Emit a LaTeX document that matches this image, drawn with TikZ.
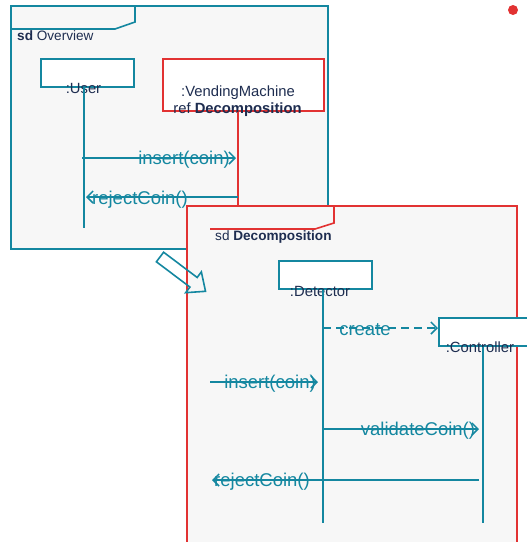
\documentclass[tikz,border=0pt]{standalone}
\usepackage{fontspec}
\setmainfont{Liberation Sans}
\usepackage{xcolor}
\definecolor{umlteal}{RGB}{20, 135, 160}
\definecolor{umlred}{RGB}{226,  50,  50}
\definecolor{paper}{RGB}{247, 247, 247}
\definecolor{ink}{RGB}{ 30,  45,  80}
\usepackage{tikz}
\usetikzlibrary{arrows.meta, positioning}

\begin{document}
\begin{tikzpicture}[x=1pt, y=-1pt,
    lifebox/.style={draw=umlteal, fill=white, line width=1.6pt, inner sep=0pt, anchor=north west},
    lifeline/.style={draw=umlteal, line width=1.8pt},
    msg/.style={draw=umlteal, line width=1.5pt, -{Straight Barb[length=6pt, width=12pt]}},
    objname/.style={text=ink, font=\fontsize{14.8}{17}\selectfont, inner sep=0pt, anchor=base},
    msglabel/.style={text=umlteal, font=\fontsize{18.5}{21}\selectfont, inner sep=0pt, anchor=base},
    sdtitle/.style={text=ink, font=\fontsize{13.6}{16}\selectfont, inner sep=0pt, anchor=base west},
    sdframe/.style={line width=1.6pt, fill=paper}
  ]
  \useasboundingbox (0,0) rectangle (527,542);
  \clip (0,0) rectangle (527,542);

  % frame sd Overview
  \draw[sdframe, draw=umlteal] (11,6) rectangle (328,249);
  \draw[umlteal, line width=1.6pt] (135,6) -- (135,22) -- (115,29) -- (11,29);
  \node[sdtitle] (overview) at (17,40) {\textbf{sd} Overview};

  \node[lifebox, minimum width=93pt, minimum height=28pt] (user) at (40,58) {};
  \node[objname] (userlbl) at (83.5,93) {:User};
  \coordinate (userend) at (84,228);
  \draw[lifeline] (user.south -| userend) -- (userend);

  \node[lifebox, draw=umlred, minimum width=161pt, minimum height=52pt] (vm) at (162,58) {};
  \node[objname] (vmlbl) at (238,96) {:VendingMachine};
  \node[objname] (vmref) at (237.5,113) {ref \textbf{Decomposition}};
  \coordinate (vmend) at (238,215);
  \draw[lifeline, draw=umlred] (vm.south -| vmend) -- (vmend);

  \coordinate (ins1a) at (82,158);
  \coordinate (ins1b) at (236,158);
  \draw[msg] (ins1a) -- (ins1b);
  \node[msglabel] (ins1) at (184,164) {insert(coin)};

  \coordinate (rej1a) at (238,197);
  \coordinate (rej1b) at (86,197);
  \draw[msg] (rej1a) -- (rej1b);
  \node[msglabel] (rej1) at (140,204) {rejectCoin()};

  % frame sd Decomposition
  \draw[sdframe, draw=umlred] (187,206) rectangle (517,560);
  \draw[umlred, line width=1.6pt] (334,206) -- (334,223) -- (315,229) -- (210,229);
  \node[sdtitle] (decomp) at (215,240) {sd \textbf{Decomposition}};

  \node[lifebox, minimum width=93pt, minimum height=28pt] (detector) at (278,260) {};
  \node[objname] (detlbl) at (320,296) {:Detector};
  \coordinate (detend) at (323,523);
  \draw[lifeline] (detector.south -| detend) -- (detend);

  \node[lifebox, minimum width=100pt, minimum height=28pt] (controller) at (438,317) {};
  \node[objname] (ctllbl) at (480,352) {:Controller};
  \coordinate (ctlend) at (483,523);
  \draw[lifeline] (controller.south -| ctlend) -- (ctlend);

  \coordinate (crea) at (323,328);
  \draw[msg, dashed, dash pattern=on 8pt off 5pt] (crea) -- (controller.west |- crea);
  \node[msglabel] (create) at (365,335) {create};

  \coordinate (ins2a) at (210,382);
  \coordinate (ins2b) at (318,382);
  \draw[msg] (ins2a) -- (ins2b);
  \node[msglabel] (ins2) at (270,388) {insert(coin)};

  \coordinate (valb) at (479,429);
  \draw[msg] (detend |- valb) -- (valb);
  \node[msglabel] (validate) at (418,435) {validateCoin()};

  \coordinate (rej2a) at (479,480);
  \coordinate (rej2b) at (212,480);
  \draw[msg] (rej2a) -- (rej2b);
  \node[msglabel] (rej2) at (262,486) {rejectCoin()};

  % hollow arrow between the frames
  \begin{scope}[shift={(160,257)}, rotate=-37]
    \draw[umlteal, line width=1.6pt, line join=miter]
      (0,-6) -- (42,-6) -- (42,-13) -- (57,0) -- (42,13) -- (42,6) -- (0,6) -- cycle;
  \end{scope}

  \fill[umlred] (513,10) circle (5);
\end{tikzpicture}
\end{document}
